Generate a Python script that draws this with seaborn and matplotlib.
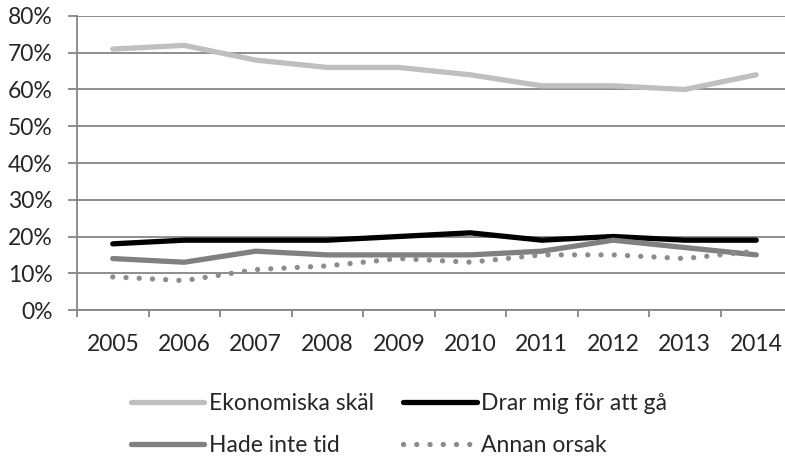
import matplotlib
matplotlib.use('Agg')
import matplotlib.pyplot as plt
from matplotlib.ticker import PercentFormatter, FixedLocator
import pandas as pd
import seaborn as sns

# Data (percent)
years = ['2005', '2006', '2007', '2008', '2009', '2010', '2011', '2012', '2013', '2014']
ekonomiska = [71, 72, 68, 66, 66, 64, 61, 61, 60, 64]
drar_mig = [18, 19, 19, 19, 20, 21, 19, 20, 19, 19]
hade_inte_tid = [14, 13, 16, 15, 15, 15, 16, 19, 17, 15]
annan_orsak = [9, 8, 11, 12, 14, 13, 15, 15, 14, 16]

series_names = ['Ekonomiska skäl', 'Drar mig för att gå', 'Hade inte tid', 'Annan orsak']
series_values = [ekonomiska, drar_mig, hade_inte_tid, annan_orsak]

sns.set_style('white')
plt.rcParams['font.family'] = ['Lato', 'DejaVu Sans']

grid_color = '#868686'
colors = {'Ekonomiska skäl': '#BFBFBF', 'Drar mig för att gå': '#000000',
          'Hade inte tid': '#808080', 'Annan orsak': '#8C8C8C'}

df = pd.DataFrame({'year': years * 4,
                   'value': sum(series_values, []),
                   'series': [n for n in series_names for _ in years]})

fig = plt.figure(figsize=(7.85, 4.65), dpi=100)
ax = fig.add_axes([77 / 785, 155 / 465, 715 / 785, 294 / 465])

for name in series_names:
    sub = df[df['series'] == name]
    sns.lineplot(data=sub, x='year', y='value', ax=ax, color=colors[name],
                 lw=3.8, label=name, sort=False)
    line = ax.lines[-1]
    line.set_solid_capstyle('round')
    if name == 'Annan orsak':
        line.set_linestyle((0, (0.01, 2.5)))
        line.set_dash_capstyle('round')

ax.set_ylim(0, 80)
ax.set_xlim(-0.5, len(years) - 0.5)
ax.yaxis.set_major_formatter(PercentFormatter(xmax=100, decimals=0))
ax.set_yticks(range(0, 81, 10))
ax.grid(axis='y', color=grid_color, lw=1.3)
ax.set_axisbelow(True)

for side in ['top', 'right']:
    ax.spines[side].set_visible(False)
for side in ['left', 'bottom']:
    ax.spines[side].set_color(grid_color)
    ax.spines[side].set_linewidth(1.3)

ax.tick_params(axis='y', length=6.5, width=1.3, color=grid_color, pad=11,
               labelsize=16.5, direction='out', left=True)
ax.xaxis.set_minor_locator(FixedLocator([i + 0.5 for i in range(-1, len(years))]))
ax.tick_params(axis='x', which='major', length=0, pad=17, labelsize=16.5)
ax.tick_params(axis='x', which='minor', length=5, width=1.3, color=grid_color,
               direction='out', bottom=True)
ax.set_xlabel('')
ax.set_ylabel('')

handles, labels = ax.get_legend_handles_labels()
ax.get_legend().remove()
order = [0, 2, 1, 3]
fig.legend([handles[i] for i in order], [labels[i] for i in order],
           ncol=2, loc='center', bbox_to_anchor=(399 / 785, 40.5 / 465),
           frameon=False, fontsize=16.5, handlelength=3.2, handletextpad=0.2,
           columnspacing=1.3, labelspacing=0.9)

fig.savefig('out.png', dpi=100)
plt.close(fig)
